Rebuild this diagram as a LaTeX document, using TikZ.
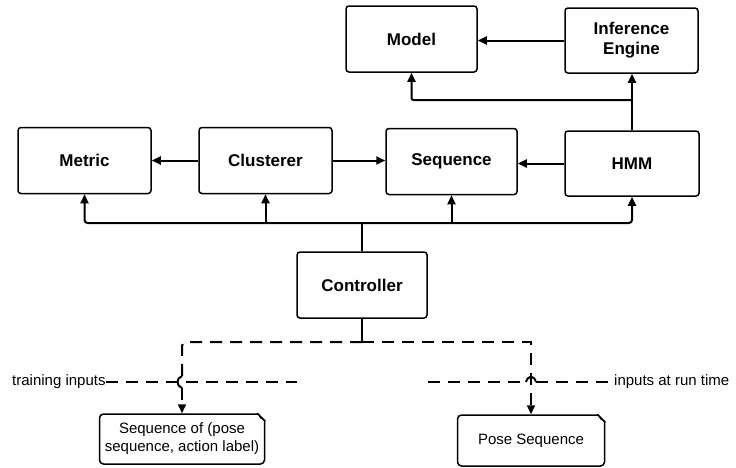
\documentclass[tikz,border=0pt]{standalone}
\usepackage{fontspec}
\setmainfont{Liberation Sans}
\usetikzlibrary{arrows.meta,calc}
\begin{document}
\begin{tikzpicture}[x=1pt,y=-1pt,
  box/.style={draw, line width=1.5pt, rounded corners=3pt, align=center,
    font=\fontsize{17}{20}\selectfont\bfseries, inner sep=0pt},
  doc/.style={draw, line width=1.5pt, rounded corners=4pt, align=center,
    font=\fontsize{15}{18}\selectfont, inner sep=0pt},
  tip/.style={-{Triangle[length=9pt,width=8pt]}},
  wire/.style={line width=2pt},
  conn/.style={wire, tip},
  dline/.style={line width=2pt, dash pattern=on 12pt off 8pt},
  lbl/.style={font=\fontsize{15}{18}\selectfont, inner sep=0pt}
]
\useasboundingbox (0,0) rectangle (736,467);

% component boxes
\node[box, minimum width=131pt, minimum height=66pt] (model)     at (411.5,39)  {Model};
\node[box, minimum width=133pt, minimum height=65pt] (engine)    at (631.5,40.5) {Inference\\Engine};
\node[box, minimum width=133pt, minimum height=66pt] (metric)    at (84.5,160.5) {Metric};
\node[box, minimum width=133pt, minimum height=66pt] (clusterer) at (265.5,160.5) {Clusterer};
\node[box, minimum width=131pt, minimum height=66pt] (sequence)  at (451.5,161.5) {Sequence};
\node[box, minimum width=134pt, minimum height=65pt] (hmm)       at (632,163.5) {HMM};
\node[box, minimum width=130pt, minimum height=66pt] (ctrl)      at (362,285) {Controller};

% input documents
\node[doc, minimum width=165pt, minimum height=50pt] (seqof) at (182,439) {Sequence of (pose\\sequence, action label)};
\node[doc, minimum width=147pt, minimum height=51pt] (pose)  at (531,440.5) {Pose Sequence};
\foreach \d in {seqof,pose}{
  \fill[white] ($(\d.north east)+(-9,-2)$) -- ($(\d.north east)+(2,-2)$) -- ($(\d.north east)+(2,9)$) -- cycle;
  \draw[line width=1.5pt] ($(\d.north east)+(-8,0)$) -- ($(\d.north east)+(0,8)$);
  \fill ($(\d.north east)+(-8,0)$) -- ($(\d.north east)+(0,8)$) -- ($(\d.north east)+(-5,5)$) -- cycle;
}

% top row
\draw[conn] (engine.west) -- (engine.west -| model.east);
\draw[conn] (hmm.north) -- (hmm.north |- engine.south);
\coordinate (tap) at (632,100);
\draw[conn, rounded corners=2pt] (tap) -| (model.south);

% middle row
\draw[conn] (clusterer.west) -- (clusterer.west -| metric.east);
\draw[conn] (clusterer.east) -- (clusterer.east -| sequence.west);
\draw[conn] (hmm.west) -- (hmm.west -| sequence.east);

% controller bus
\coordinate (bus) at (362,223);
\draw[wire] (ctrl.north) -- (bus);
\draw[conn, rounded corners=3pt] (bus) -| (metric.south);
\draw[conn] (bus) -| (clusterer.south);
\draw[conn] (bus) -| (sequence.south);
\draw[conn, rounded corners=3pt] (bus) -| (hmm.south);

% inputs
\coordinate (split) at (362,342);
\draw[wire] (ctrl.south) -- (362,334);
\draw[dline] (362,334) -- (split);

\coordinate (hopA) at (182,376);
\coordinate (hopB) at (182,388);
\draw[dline, rounded corners=4pt] (split) -| (hopA);
\draw[wire] (hopA) .. controls (176,378) and (176,386) .. (hopB);
\draw[dline, tip] (hopB) -- (seqof.north);

\draw[dline, tip] (split) -| (pose.north);

\node[lbl, anchor=west] (trainlbl) at (12,382) {training inputs};
\coordinate (trainend) at (297,382);
\draw[dline] (trainlbl.east) -- (trainend);

\node[lbl, anchor=west] (runlbl) at (614,382) {inputs at run time};
\coordinate (runstart) at (428,382);
\coordinate (hopC) at (526,382);
\coordinate (hopD) at (536,382);
\draw[dline] (runstart) -- (hopC);
\draw[wire] (hopC) .. controls (528,375) and (534,375) .. (hopD);
\draw[dline] (hopD) -- (runlbl.west);
\end{tikzpicture}
\end{document}
